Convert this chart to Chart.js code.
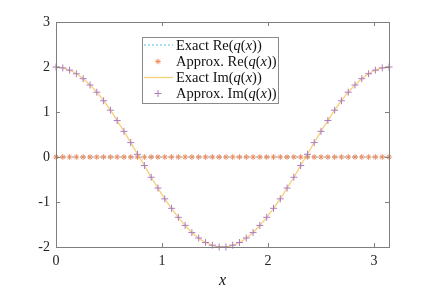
<!DOCTYPE html>
<html>
<head>
<meta charset="utf-8">
<script src="https://cdn.jsdelivr.net/npm/chart.js@4.4.1/dist/chart.umd.min.js"></script>
<style>
  html, body { margin: 0; padding: 0; background: #ffffff; }
  #wrap { width: 431px; height: 291px; }
</style>
</head>
<body>
<div id="wrap"><canvas id="chart" width="431" height="291"></canvas></div>
<script>
// grid points (0 .. pi)
const xValues = [0, 0.064, 0.128, 0.192, 0.256, 0.321, 0.385, 0.449, 0.513, 0.577,
    0.641, 0.705, 0.769, 0.834, 0.898, 0.962, 1.026, 1.090, 1.154, 1.218,
    1.282, 1.346, 1.411, 1.475, 1.539, 1.603, 1.667, 1.731, 1.795, 1.859,
    1.923, 1.988, 2.052, 2.116, 2.180, 2.244, 2.308, 2.372, 2.436, 2.500,
    2.565, 2.629, 2.693, 2.757, 2.821, 2.885, 2.949, 3.013, 3.078, 3.142];

const reValues = [0, 0, 0, 0, 0, 0, 0, 0, 0, 0,
    0, 0, 0, 0, 0, 0, 0, 0, 0, 0,
    0, 0, 0, 0, 0, 0, 0, 0, 0, 0,
    0, 0, 0, 0, 0, 0, 0, 0, 0, 0,
    0, 0, 0, 0, 0, 0, 0, 0, 0, 0];

const imValues = [2.00, 1.98, 1.93, 1.85, 1.74, 1.60, 1.44, 1.25, 1.04, 0.81,
    0.57, 0.32, 0.06, -0.19, -0.45, -0.69, -0.93, -1.14, -1.34, -1.52,
    -1.68, -1.80, -1.90, -1.96, -2.00, -2.00, -1.96, -1.90, -1.80, -1.68,
    -1.52, -1.34, -1.14, -0.93, -0.69, -0.45, -0.19, 0.06, 0.32, 0.57,
    0.81, 1.04, 1.25, 1.44, 1.60, 1.74, 1.85, 1.93, 1.98, 2.00];

const xTicks = [0, 1, 2, 3];
const yTicks = [-2, -1, 0, 1, 2, 3];

const FONT = '"Liberation Serif", "DejaVu Serif", serif';
const AXIS_COLOR = '#7f7f7f';

function toPoints(xs, ys) {
    return xs.map((x, i) => ({ x: x, y: ys[i] }));
}

// legend text with italic q and x
function drawRich(ctx, parts, x, y) {
    for (const p of parts) {
        ctx.font = (p.it ? 'italic ' : '') + '14.5px ' + FONT;
        ctx.fillText(p.t, x, y);
        x += ctx.measureText(p.t).width;
    }
}

function labelParts(kind, fn) {
    return [
        { t: kind + ' ' + fn + '(' }, { t: 'q', it: true }, { t: '(' },
        { t: 'x', it: true }, { t: '))' }
    ];
}

const framePlugin = {
    id: 'frame',
    afterDraw(chart) {
        const ctx = chart.ctx;
        const a = chart.chartArea;
        const xs = chart.scales.x;
        const ys = chart.scales.y;

        ctx.save();
        ctx.strokeStyle = AXIS_COLOR;
        ctx.lineWidth = 1;
        ctx.strokeRect(Math.round(a.left) + 0.5, Math.round(a.top) + 0.5,
            Math.round(a.right - a.left), Math.round(a.bottom - a.top));

        // inward ticks
        ctx.beginPath();
        for (const t of xTicks) {
            const px = Math.round(xs.getPixelForValue(t)) + 0.5;
            ctx.moveTo(px, a.bottom); ctx.lineTo(px, a.bottom - 4);
            ctx.moveTo(px, a.top); ctx.lineTo(px, a.top + 4);
        }
        for (const t of yTicks) {
            const py = Math.round(ys.getPixelForValue(t)) + 0.5;
            ctx.moveTo(a.left, py); ctx.lineTo(a.left + 4, py);
            ctx.moveTo(a.right, py); ctx.lineTo(a.right - 4, py);
        }
        ctx.stroke();

        // legend
        const bx = 142, by = 37, bw = 136, bh = 66;
        ctx.fillStyle = '#ffffff';
        ctx.fillRect(bx, by, bw, bh);
        ctx.strokeStyle = '#8a8a8a';
        ctx.strokeRect(bx + 0.5, by + 0.5, bw, bh);

        const rows = [45, 61.5, 77.5, 93.5];
        const sets = chart.data.datasets;
        ctx.textBaseline = 'middle';
        ctx.textAlign = 'left';
        rows.forEach((ry, i) => {
            const ds = sets[i];
            if (ds.showLine) {
                ctx.beginPath();
                ctx.strokeStyle = ds.borderColor;
                ctx.lineWidth = ds.borderWidth;
                ctx.setLineDash(ds.borderDash || []);
                ctx.moveTo(144, ry); ctx.lineTo(173, ry);
                ctx.stroke();
                ctx.setLineDash([]);
            } else {
                ctx.strokeStyle = ds.pointBorderColor;
                ctx.fillStyle = ds.pointBackgroundColor;
                ctx.lineWidth = ds.pointBorderWidth;
                Chart.helpers.drawPoint(ctx, {
                    pointStyle: ds.pointStyle,
                    radius: ds.pointRadius,
                    borderWidth: ds.pointBorderWidth,
                    rotation: 0
                }, 158, ry);
            }
            ctx.fillStyle = '#111111';
            drawRich(ctx, ds.richLabel, 176, ry + 1);
        });
        ctx.restore();
    }
};

const ctx = document.getElementById('chart').getContext('2d');
const chart = new Chart(ctx, {
    type: 'scatter',
    data: {
        datasets: [{
            label: 'Exact Re(q(x))',
            richLabel: labelParts('Exact', 'Re'),
            data: toPoints(xValues, reValues),
            showLine: true,
            borderColor: '#4dbeee',
            borderWidth: 1,
            borderDash: [2, 2],
            pointRadius: 0,
            order: 4,
            clip: false
        }, {
            label: 'Approx. Re(q(x))',
            richLabel: labelParts('Approx.', 'Re'),
            data: toPoints(xValues, reValues),
            showLine: false,
            pointStyle: 'star',
            pointRadius: 2.8,
            pointBorderWidth: 1,
            pointBorderColor: '#f08a5c',
            pointBackgroundColor: '#f08a5c',
            order: 3,
            clip: false
        }, {
            label: 'Exact Im(q(x))',
            richLabel: labelParts('Exact', 'Im'),
            data: toPoints(xValues, imValues),
            showLine: true,
            borderColor: 'rgba(237, 177, 32, 0.6)',
            borderWidth: 1.3,
            tension: 0.4,
            pointRadius: 0,
            order: 2,
            clip: false
        }, {
            label: 'Approx. Im(q(x))',
            richLabel: labelParts('Approx.', 'Im'),
            data: toPoints(xValues, imValues),
            showLine: false,
            pointStyle: 'cross',
            pointRadius: 3.5,
            pointBorderWidth: 1,
            pointBorderColor: '#ad7cc0',
            pointBackgroundColor: '#ad7cc0',
            order: 1,
            clip: false
        }]
    },
    options: {
        responsive: false,
        animation: false,
        events: [],
        layout: { padding: { top: 22, right: 42, left: 0, bottom: 0 } },
        plugins: {
            legend: { display: false },
            tooltip: { enabled: false }
        },
        scales: {
            x: {
                type: 'linear',
                min: 0,
                max: 3.14159,
                afterBuildTicks: (s) => { s.ticks = xTicks.map(v => ({ value: v })); },
                afterFit: (s) => { s.height = 44; },
                grid: { display: false, drawTicks: false },
                border: { display: false },
                ticks: {
                    color: '#222222',
                    padding: 6,
                    maxRotation: 0,
                    font: { family: FONT, size: 14 }
                },
                title: {
                    display: true,
                    text: 'x',
                    color: '#111111',
                    padding: { top: 0, bottom: 1 },
                    font: { family: FONT, size: 16, style: 'italic' }
                }
            },
            y: {
                type: 'linear',
                min: -2,
                max: 3,
                afterBuildTicks: (s) => { s.ticks = yTicks.map(v => ({ value: v })); },
                afterFit: (s) => { s.width = 56; },
                grid: { display: false, drawTicks: false },
                border: { display: false },
                ticks: {
                    color: '#222222',
                    padding: 6,
                    font: { family: FONT, size: 14 }
                }
            }
        }
    },
    plugins: [framePlugin]
});
</script>
</body>
</html>
